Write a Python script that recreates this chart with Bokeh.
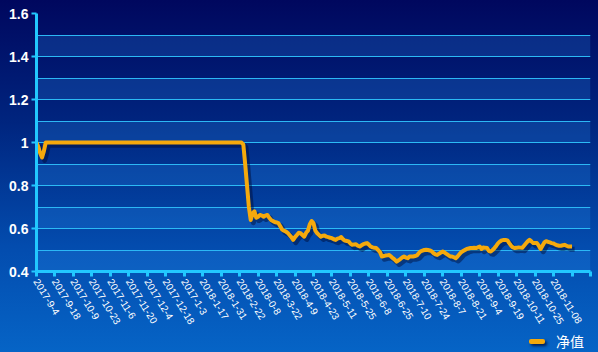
from bokeh.plotting import figure
from bokeh.layouts import column
from bokeh.models import (Range1d, FixedTicker, CustomJSTickFormatter, BoxAnnotation,
                          ColumnDataSource, Div)
from bokeh.transform import dodge
from bokeh.embed import file_html
from bokeh.resources import INLINE

# ---- data ----
tick_labels = ["2017-9-4", "2017-9-18", "2017-10-9", "2017-10-23", "2017-11-6", "2017-11-20",
               "2017-12-4", "2017-12-18", "2017-1-3", "2018-1-17", "2018-1-31", "2018-2-22",
               "2018-0-8", "2018-3-22", "2018-4-9", "2018-4-23", "2018-5-11", "2018-5-25",
               "2018-6-8", "2018-6-25", "2018-7-10", "2018-7-24", "2018-8-7", "2018-8-21",
               "2018-9-4", "2018-9-19", "2018-10-11", "2018-10-25", "2018-11-08"]

nav = [
    1.00, 0.98, 0.95, 0.93, 0.96, 1.00, 1.00, 1.00, 1.00, 1.00,
    1.00, 1.00, 1.00, 1.00, 1.00, 1.00, 1.00, 1.00, 1.00, 1.00,
    1.00, 1.00, 1.00, 1.00, 1.00, 1.00, 1.00, 1.00, 1.00, 1.00,
    1.00, 1.00, 1.00, 1.00, 1.00, 1.00, 1.00, 1.00, 1.00, 1.00,
    1.00, 1.00, 1.00, 1.00, 1.00, 1.00, 1.00, 1.00, 1.00, 1.00,
    1.00, 1.00, 1.00, 1.00, 1.00, 1.00, 1.00, 1.00, 1.00, 1.00,
    1.00, 1.00, 1.00, 1.00, 1.00, 1.00, 1.00, 1.00, 1.00, 1.00,
    1.00, 1.00, 1.00, 1.00, 1.00, 1.00, 1.00, 1.00, 1.00, 1.00,
    1.00, 1.00, 1.00, 1.00, 1.00, 1.00, 1.00, 1.00, 1.00, 1.00,
    1.00, 1.00, 1.00, 1.00, 1.00, 1.00, 1.00, 1.00, 1.00, 1.00,
    1.00, 1.00, 1.00, 1.00, 1.00, 1.00, 1.00, 1.00, 1.00, 1.00,
    1.00, 1.00, 0.99, 0.90, 0.80, 0.70, 0.64, 0.67, 0.68, 0.65,
    0.655, 0.663, 0.66, 0.655, 0.66, 0.663, 0.65, 0.64, 0.635, 0.63,
    0.628, 0.625, 0.61, 0.595, 0.59, 0.586, 0.58, 0.57, 0.56, 0.547,
    0.56, 0.57, 0.58, 0.578, 0.57, 0.562, 0.58, 0.59, 0.62, 0.635,
    0.625, 0.59, 0.578, 0.57, 0.562, 0.566, 0.567, 0.562, 0.56, 0.557,
    0.555, 0.55, 0.547, 0.553, 0.555, 0.56, 0.55, 0.544, 0.542, 0.54,
    0.53, 0.524, 0.526, 0.527, 0.52, 0.516, 0.522, 0.527, 0.53, 0.532,
    0.525, 0.516, 0.512, 0.51, 0.509, 0.50, 0.49, 0.47, 0.472, 0.474,
    0.475, 0.477, 0.47, 0.462, 0.455, 0.446, 0.452, 0.458, 0.465, 0.47,
    0.465, 0.462, 0.47, 0.47, 0.47, 0.472, 0.475, 0.485, 0.494, 0.497,
    0.50, 0.501, 0.50, 0.498, 0.494, 0.485, 0.48, 0.477, 0.483, 0.488,
    0.493, 0.488, 0.482, 0.476, 0.47, 0.47, 0.466, 0.462, 0.47, 0.48,
    0.49, 0.495, 0.50, 0.505, 0.507, 0.509, 0.509, 0.51, 0.509, 0.512,
    0.516, 0.505, 0.512, 0.51, 0.509, 0.495, 0.493, 0.50, 0.509, 0.52,
    0.532, 0.54, 0.545, 0.547, 0.547, 0.545, 0.532, 0.52, 0.512, 0.509,
    0.51, 0.512, 0.511, 0.51, 0.52, 0.53, 0.54, 0.547, 0.54, 0.532,
    0.532, 0.532, 0.52, 0.505, 0.52, 0.535, 0.541, 0.538, 0.535, 0.532,
    0.53, 0.525, 0.522, 0.52, 0.52, 0.522, 0.524, 0.52, 0.516, 0.516,
    0.516,
]
days = list(range(len(nav)))
label_step = 10
series_name = "净值"

LINE_COLOR = "#f5a90c"

# ---- main figure ----
p = figure(width=598, height=330, output_backend="svg", toolbar_location=None,
           x_range=Range1d(0, 300), y_range=Range1d(0.4, 1.6),
           min_border_left=36, min_border_right=8, min_border_top=13, min_border_bottom=59)
p.background_fill_alpha = 0
p.border_fill_alpha = 0
p.outline_line_color = None

# alternating bands
for k in range(12):
    lo = 0.4 + 0.1 * k
    if k % 2 == 0:
        p.add_layout(BoxAnnotation(bottom=lo, top=lo + 0.1, fill_color="#2f95f5",
                                   fill_alpha=0.22, line_color=None, level="underlay"))

# grid
p.xgrid.visible = False
p.ygrid.ticker = FixedTicker(ticks=[round(0.4 + 0.1 * k, 1) for k in range(13)])
p.ygrid.grid_line_color = "#2cc0f5"
p.ygrid.grid_line_width = 1
p.ygrid.level = "underlay"

# y axis
p.yaxis.ticker = FixedTicker(ticks=[0.4, 0.6, 0.8, 1.0, 1.2, 1.4, 1.6])
p.yaxis.formatter = CustomJSTickFormatter(code="return tick.toFixed(1).replace(/\\.0$/, '');")
p.yaxis.axis_line_color = "#22c8ff"
p.yaxis.axis_line_width = 3
p.yaxis.major_tick_line_color = "#22c8ff"
p.yaxis.major_tick_line_width = 2
p.yaxis.major_tick_out = 5
p.yaxis.major_tick_in = 0
p.yaxis.minor_tick_line_color = None
p.yaxis.major_label_text_color = "white"
p.yaxis.major_label_text_font = "Liberation Sans"
p.yaxis.major_label_text_font_style = "bold"
p.yaxis.major_label_text_font_size = "14px"
p.yaxis.major_label_standoff = 3

# x axis
xt = [i * label_step for i in range(31)]
p.xaxis.ticker = FixedTicker(ticks=xt)
p.xaxis.major_label_overrides = {t: (tick_labels[i] if i < len(tick_labels) else "") for i, t in enumerate(xt)}
p.xaxis.axis_line_color = "#22c8ff"
p.xaxis.axis_line_width = 3
p.xaxis.major_tick_line_color = "#22c8ff"
p.xaxis.major_tick_line_width = 3
p.xaxis.major_tick_out = 5
p.xaxis.major_tick_in = 0
p.xaxis.minor_tick_line_color = None
p.xaxis.major_label_orientation = -1.02
p.xaxis.major_label_text_color = "white"
p.xaxis.major_label_text_font = "Liberation Sans"
p.xaxis.major_label_text_font_size = "10px"
p.xaxis.major_label_standoff = 3

src = ColumnDataSource(dict(x=days, y=nav))
p.line(x=dodge("x", 1.4, range=p.x_range), y=dodge("y", -0.013, range=p.y_range), source=src,
       line_color="#000830", line_alpha=0.45, line_width=5, line_join="round")
ln = p.line(x="x", y="y", source=src, line_color=LINE_COLOR, line_width=4, line_join="round")

# ---- legend strip (HTML) ----
legend_html = (
    '<div style="position:relative;width:598px;height:22px;">'
    '<span style="position:absolute;left:529px;top:9px;width:16px;height:5px;'
    'background:' + LINE_COLOR + ';border-radius:2px;'
    'box-shadow:2px 2px 3px rgba(0,0,40,0.7);"></span>'
    '<span style="position:absolute;left:556px;top:2px;line-height:18px;color:white;'
    'font-family:\'Noto Sans CJK SC\';font-size:14px;white-space:nowrap;">'
    + series_name + '</span></div>'
)
legend_div = Div(text=legend_html, width=598, height=22, margin=0,
                 styles={"overflow": "visible"})

layout = column(p, legend_div, spacing=0)
layout.styles = {"background": "linear-gradient(to bottom, #00075e 0%, #00257f 35%, #034cae 70%, #0664c6 100%)"}

open("out.html", "w").write(file_html(layout, INLINE))
